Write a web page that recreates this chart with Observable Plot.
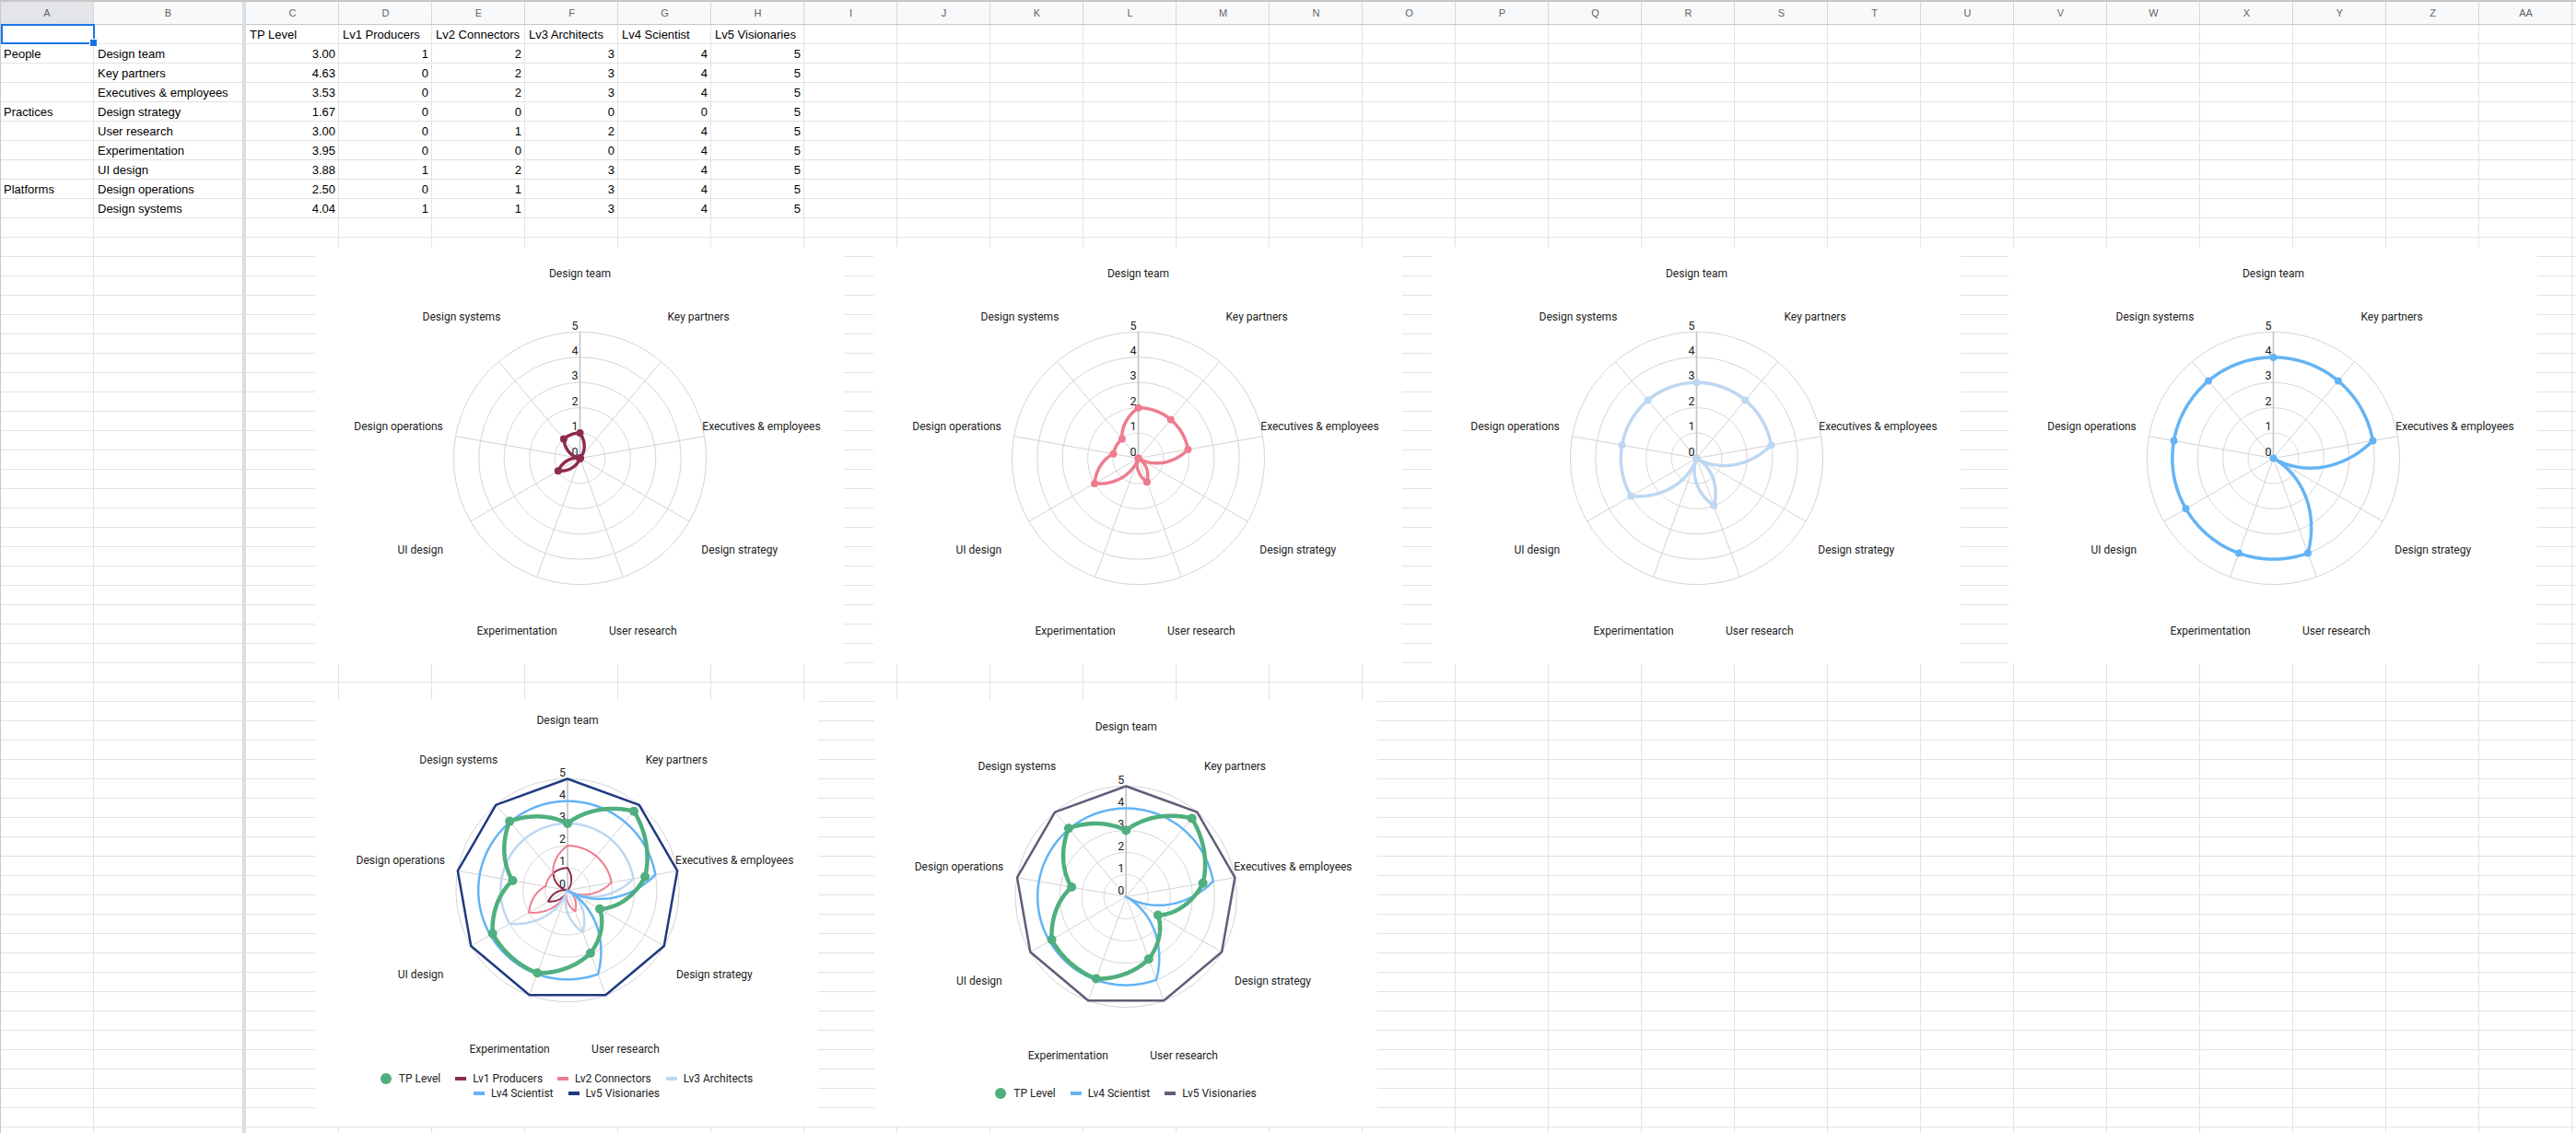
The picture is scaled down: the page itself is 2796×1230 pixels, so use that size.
<!DOCTYPE html>
<html>
<head>
<meta charset="utf-8">
<script src="https://cdn.jsdelivr.net/npm/d3@7"></script>
<script src="https://cdn.jsdelivr.net/npm/@observablehq/plot@0.6"></script>
<style>
  html, body { margin: 0; padding: 0; background: #fff; }
  body { width: 2796px; height: 1230px; overflow: hidden; position: relative; font-family: "Liberation Sans", Arial, sans-serif; }
  .abs { position: absolute; }
  .cell { position: absolute; height: 21px; line-height: 22px; font-size: 13px; color: #000; white-space: nowrap; box-sizing: border-box; padding: 0 4px; overflow: visible; }
  .num { text-align: right; }
  .colhdr { position: absolute; top: 2px; height: 24px; line-height: 24px; font-size: 11px; color: #5f6368; text-align: center; }
  .chart { position: absolute; background: #fff; }
  .legend { font-family: Roboto, sans-serif; font-size: 12px; color: #222; }
  .lrow { display: flex; justify-content: center; align-items: center; height: 16px; line-height: 16px; }
  .litem { display: flex; align-items: center; margin: 0 8px; white-space: nowrap; }
  .mk-dot { width: 12px; height: 12px; border-radius: 50%; margin-right: 8px; }
  .mk-line { width: 12px; height: 4px; margin-right: 7px; }
</style>
</head>
<body>
<script>
// ---------- data ----------
const columnLetters = ["A","B","C","D","E","F","G","H","I","J","K","L","M","N","O","P","Q","R","S","T","U","V","W","X","Y","Z","AA"];
const groups = ["People","","","Practices","","","","Platforms",""];
const categories = ["Design team","Key partners","Executives & employees","Design strategy","User research","Experimentation","UI design","Design operations","Design systems"];
const seriesNames = ["TP Level","Lv1 Producers","Lv2 Connectors","Lv3 Architects","Lv4 Scientist","Lv5 Visionaries"];
const tpLevel = [3.00, 4.63, 3.53, 1.67, 3.00, 3.95, 3.88, 2.50, 4.04];
const lv1Producers = [1, 0, 0, 0, 0, 0, 1, 0, 1];
const lv2Connectors = [2, 2, 2, 0, 1, 0, 2, 1, 1];
const lv3Architects = [3, 3, 3, 0, 2, 0, 3, 3, 3];
const lv4Scientist = [4, 4, 4, 0, 4, 4, 4, 4, 4];
const lv5Visionaries = [5, 5, 5, 5, 5, 5, 5, 5, 5];
const radialTicks = [0, 1, 2, 3, 4, 5];

const seriesValues = {
  "TP Level": tpLevel, "Lv1 Producers": lv1Producers, "Lv2 Connectors": lv2Connectors,
  "Lv3 Architects": lv3Architects, "Lv4 Scientist": lv4Scientist, "Lv5 Visionaries": lv5Visionaries
};
const seriesColor = {
  "TP Level": "#4faf7e", "Lv1 Producers": "#8d2a50", "Lv2 Connectors": "#ee7c8e",
  "Lv3 Architects": "#bdd7f1", "Lv4 Scientist": "#64b4f5", "Lv5 Visionaries": "#1f3b80"
};

// ---------- spreadsheet ----------
const body = document.body;
function el(cls, style, text) {
  const d = document.createElement("div");
  d.className = cls;
  Object.assign(d.style, style);
  if (text !== undefined) d.textContent = text;
  body.appendChild(d);
  return d;
}
function colBox(j) {
  if (j === 0) return [0, 102];
  if (j === 1) return [102, 263];
  const l = 267 + 101 * (j - 2);
  return [l, l + 101];
}
const W = 2796, H = 1230;
// top bar + header
el("abs", {left: "0px", top: "0px", width: W + "px", height: "2px", background: "#c4c7c5"});
el("abs", {left: "0px", top: "2px", width: W + "px", height: "24px", background: "#f8f9fa"});
el("abs", {left: "0px", top: "2px", width: "101px", height: "24px", background: "#e3e5e8"});
el("abs", {left: "0px", top: "26px", width: W + "px", height: "1px", background: "#c4c7c5"});
// horizontal grid lines
for (let y = 47; y < H; y += 21) {
  el("abs", {left: "0px", top: y + "px", width: W + "px", height: "1px", background: "#e2e3e3"});
}
// vertical grid lines + header separators + letters
for (let j = 0; j < 28; j++) {
  const [l, r] = colBox(j);
  if (l >= W) break;
  if (j !== 1) {
    el("abs", {left: (r - 1) + "px", top: "27px", width: "1px", height: (H - 27) + "px", background: "#e2e3e3"});
    el("abs", {left: (r - 1) + "px", top: "2px", width: "1px", height: "24px", background: "#d5d7d9"});
  }
  if (j < columnLetters.length) {
    el("colhdr", {left: l + "px", width: (r - l) + "px"}, columnLetters[j]);
  }
}
// frozen divider
el("abs", {left: "263px", top: "2px", width: "4px", height: (H - 2) + "px", background: "#dadde2"});
el("abs", {left: "0px", top: "0px", width: "1px", height: H + "px", background: "#c7c7c7"});

// cell contents
function rowTop(r) { return 27 + 21 * r; }
seriesNames.forEach((s, k) => {
  const [l, r] = colBox(2 + k);
  el("cell", {left: l + "px", top: rowTop(0) + "px", width: (r - l) + "px"}, s);
});
categories.forEach((c, i) => {
  const t = rowTop(i + 1) + "px";
  if (groups[i]) el("cell", {left: "0px", top: t, width: "102px"}, groups[i]);
  el("cell", {left: "102px", top: t, width: "161px"}, c);
  seriesNames.forEach((s, k) => {
    const [l, r] = colBox(2 + k);
    const v = seriesValues[s][i];
    el("cell num", {left: l + "px", top: t, width: (r - l) + "px"}, k === 0 ? v.toFixed(2) : String(v));
  });
});
// selected cell A1
el("abs", {left: "1px", top: "26px", width: "102px", height: "22px", border: "2px solid #1a73e8", boxSizing: "border-box"});
el("abs", {left: "97px", top: "42px", width: "7px", height: "7px", background: "#1a73e8", border: "1px solid #fff"});

// ---------- radar charts ----------
function polarCurve(cx, cy, n) {
  const step = 2 * Math.PI / n;
  return function(context) {
    let pts = [];
    return {
      areaStart() {}, areaEnd() {},
      lineStart() { pts = []; },
      point(x, y) { pts.push([+x, +y]); },
      lineEnd() {
        if (!pts.length) return;
        const rs = pts.map(([x, y]) => Math.hypot(x - cx, y - cy));
        const k = rs.findIndex(r => r > 0.5);
        const a0 = k >= 0 ? Math.atan2(pts[k][0] - cx, cy - pts[k][1]) - k * step : 0;
        const M = 40;
        context.moveTo(pts[0][0], pts[0][1]);
        for (let i = 1; i < pts.length; i++) {
          for (let j = 1; j <= M; j++) {
            const t = j / M;
            const r = rs[i - 1] + (rs[i] - rs[i - 1]) * t;
            const a = a0 + (i - 1 + t) * step;
            context.lineTo(cx + r * Math.sin(a), cy - r * Math.cos(a));
          }
        }
      }
    };
  };
}

function polarRows(values) {
  const n = values.length;
  return d3.range(n + 1).map(i => {
    const v = values[i % n];
    const a = 2 * Math.PI * i / n;
    return {idx: i, value: v, category: categories[i % n], x: v * Math.sin(a), y: v * Math.cos(a)};
  });
}

const charts = [
  {left: 342, top: 268, w: 574, h: 453, svgH: 453, cx: 287, cy: 229, r: 137, labelR: 200,
   layers: [{name: "Lv1 Producers", sw: 3.5, dot: 4}]},
  {left: 948, top: 268, w: 574, h: 453, svgH: 453, cx: 287, cy: 229, r: 137, labelR: 200,
   layers: [{name: "Lv2 Connectors", sw: 3.5, dot: 4}]},
  {left: 1554, top: 268, w: 574, h: 453, svgH: 453, cx: 287, cy: 229, r: 137, labelR: 200,
   layers: [{name: "Lv3 Architects", sw: 3.5, dot: 4}]},
  {left: 2180, top: 268, w: 574, h: 453, svgH: 453, cx: 287, cy: 229, r: 137, labelR: 200,
   layers: [{name: "Lv4 Scientist", sw: 3.5, dot: 4}]},
  {left: 342, top: 760, w: 546, h: 462, svgH: 403, cx: 273.5, cy: 206, r: 121, labelR: 184,
   layers: [
     {name: "Lv1 Producers", sw: 2},
     {name: "Lv2 Connectors", sw: 2},
     {name: "Lv3 Architects", sw: 2.5},
     {name: "Lv4 Scientist", sw: 2.5},
     {name: "Lv5 Visionaries", sw: 2.5, straight: true},
     {name: "TP Level", sw: 4.5, dot: 5}
   ],
   legend: [["TP Level","Lv1 Producers","Lv2 Connectors","Lv3 Architects"],["Lv4 Scientist","Lv5 Visionaries"]]},
  {left: 949, top: 760, w: 546, h: 462, svgH: 419, cx: 272.7, cy: 213, r: 120, labelR: 184,
   layers: [
     {name: "Lv4 Scientist", sw: 2.5},
     {name: "Lv5 Visionaries", sw: 2.5, straight: true, color: "#5f5e78"},
     {name: "TP Level", sw: 4.5, dot: 5}
   ],
   legend: [["TP Level","Lv4 Scientist","Lv5 Visionaries"]]}
];

function radar(spec) {
  const n = categories.length;
  const curve = polarCurve(spec.cx, spec.cy, n);
  const kLab = spec.labelR / spec.r * 5;
  const axisRows = categories.map((c, i) => {
    const a = 2 * Math.PI * i / n;
    return {c, i, x2: 5 * Math.sin(a), y2: 5 * Math.cos(a), lx: kLab * Math.sin(a), ly: kLab * Math.cos(a)};
  });
  const ringRows = radialTicks.filter(t => t > 0).flatMap(t => polarRows(categories.map(() => t)).map(d => ({...d, ring: t})));
  const marks = [
    Plot.line(ringRows, {x: "x", y: "y", z: "ring", curve, stroke: "#d3d3d3", strokeWidth: 1}),
    Plot.link(axisRows.filter(d => d.i > 0), {x1: () => 0, y1: () => 0, x2: "x2", y2: "y2", stroke: "#d3d3d3", strokeWidth: 1}),
    Plot.link(axisRows.filter(d => d.i === 0), {x1: () => 0, y1: () => 0, x2: "x2", y2: "y2", stroke: "#c4c4c4", strokeWidth: 1.6}),
    Plot.text(radialTicks, {x: () => 0, y: d => d, text: d => String(d), textAnchor: "end", dx: -2, dy: -7, fontSize: 12.5, fill: "#222"}),
    Plot.text(axisRows, {x: "lx", y: "ly", text: "c", fontSize: 12, fill: "#222"})
  ];
  for (const L of spec.layers) {
    const rows = polarRows(seriesValues[L.name]);
    const color = L.color || seriesColor[L.name];
    marks.push(Plot.line(rows, {x: "x", y: "y", curve: L.straight ? "linear" : curve, stroke: color, strokeWidth: L.sw}));
    if (L.dot) marks.push(Plot.dot(rows.slice(0, n), {x: "x", y: "y", r: L.dot, fill: color}));
  }
  return Plot.plot({
    width: spec.w, height: spec.svgH, margin: 0,
    x: {type: "linear", domain: [-5, 5], range: [spec.cx - spec.r, spec.cx + spec.r], axis: null},
    y: {type: "linear", domain: [-5, 5], range: [spec.cy + spec.r, spec.cy - spec.r], axis: null},
    style: {fontFamily: "Roboto, sans-serif", fontSize: "12px", background: "#fff", overflow: "visible"},
    marks
  });
}

for (const spec of charts) {
  const box = el("chart", {left: spec.left + "px", top: spec.top + "px", width: spec.w + "px", height: spec.h + "px"});
  const svg = radar(spec);
  svg.style.display = "block";
  box.appendChild(svg);
  if (spec.legend) {
    const lg = document.createElement("div");
    lg.className = "legend";
    for (const row of spec.legend) {
      const rdiv = document.createElement("div");
      rdiv.className = "lrow";
      for (const name of row) {
        const layer = spec.layers.find(l => l.name === name);
        const color = (layer && layer.color) || seriesColor[name];
        const item = document.createElement("div");
        item.className = "litem";
        const mk = document.createElement("div");
        mk.className = name === "TP Level" ? "mk-dot" : "mk-line";
        mk.style.background = color;
        const tx = document.createElement("span");
        tx.textContent = name;
        item.appendChild(mk); item.appendChild(tx);
        rdiv.appendChild(item);
      }
      lg.appendChild(rdiv);
    }
    box.appendChild(lg);
  }
}
</script>
</body>
</html>
